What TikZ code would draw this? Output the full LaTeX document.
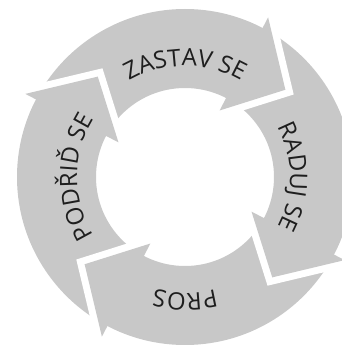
\documentclass[tikz,border=0pt]{standalone}
\usepackage{fontspec}
\setmainfont{Open Sans}
\usetikzlibrary{decorations.text}
\definecolor{seg}{RGB}{200,200,200}
\definecolor{txt}{RGB}{30,30,30}
\tikzset{
  segfill/.style={fill=seg},
  gapline/.style={draw=white, line width=14pt, line join=miter},
  arclabel/.style={decorate, decoration={text along path, text align=center, text color=txt,
      text={|\fontsize{24}{24}\selectfont|#1}}}
}
\begin{document}
\begin{tikzpicture}[x=1pt,y=1pt]
\useasboundingbox (0,0) rectangle (341,346);
\begin{scope}[shift={(185,169)}]
  \coordinate (c) at (0,0);
  % ring
  \fill[seg, even odd rule] (c) circle[radius=168] (c) circle[radius=89];
  % arrow heads with white gaps
  \foreach \b/\n in {62.5/zastav,152.5/podrid,242.5/pros,332.5/raduj}{
    \coordinate (\n-out) at (\b:180);
    \coordinate (\n-tip) at (\b-21.5:133);
    \coordinate (\n-in) at (\b:75);
    \path[gapline] (\n-out) -- (\n-tip) -- (\n-in);
    \path[segfill] (\n-out) -- (\n-tip) -- (\n-in) -- cycle;
  }
  % labels
  \path[arclabel={ZASTAV SE}] (150:111) arc[start angle=150, end angle=30, radius=111];
  \path[arclabel={RADUJ SE}] (60:105) arc[start angle=60, end angle=-60, radius=105];
  \path[arclabel={PROS}] (-30:116) arc[start angle=-30, end angle=-150, radius=116];
  \path[arclabel={PODŘIĎ SE}] (240:108) arc[start angle=240, end angle=120, radius=108];
\end{scope}
\end{tikzpicture}
\end{document}
